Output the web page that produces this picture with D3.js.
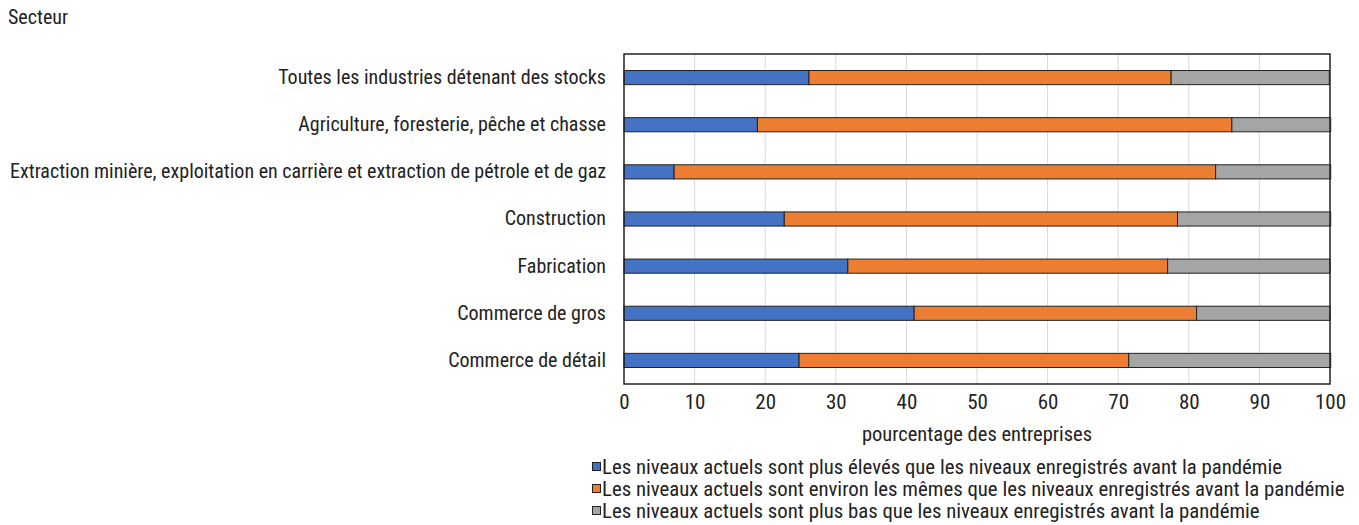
<!DOCTYPE html>
<html>
<head>
<meta charset="utf-8">
<script src="https://cdn.jsdelivr.net/npm/d3@7"></script>
<style>
  body { margin: 0; background: #fff; }
  svg text { font-family: "Liberation Sans Narrow", "Arial Narrow", "Roboto Condensed", sans-serif; fill: #222; }
</style>
</head>
<body>
<div id="chart"></div>
<script>
(function(){
  'use strict';

  // sectors, top to bottom
  const categories = [
    "Toutes les industries détenant des stocks",
    "Agriculture, foresterie, pêche et chasse",
    "Extraction minière, exploitation en carrière et extraction de pétrole et de gaz",
    "Construction",
    "Fabrication",
    "Commerce de gros",
    "Commerce de détail"
  ];

  // share of firms (%) for each answer
  const higher = [26.2, 18.9, 7.1, 22.7, 31.7, 41.1, 24.8];
  const same   = [51.3, 67.2, 76.7, 55.7, 45.3, 40.0, 46.7];
  const lower  = [22.4, 14.0, 16.3, 21.7, 23.0, 18.9, 28.6];

  const seriesNames = [
    "Les niveaux actuels sont plus élevés que les niveaux enregistrés avant la pandémie",
    "Les niveaux actuels sont environ les mêmes que les niveaux enregistrés avant la pandémie",
    "Les niveaux actuels sont plus bas que les niveaux enregistrés avant la pandémie"
  ];
  const colors = ["#4472c4", "#ed7d31", "#a5a5a5"];
  const xTicks = [0, 10, 20, 30, 40, 50, 60, 70, 80, 90, 100];

  const W = 1359, H = 525;
  const margin = { top: 54, right: 29, bottom: 141, left: 624 };
  const width = W - margin.left - margin.right;
  const height = H - margin.top - margin.bottom;

  const rows = categories.map((c, i) => ({ cat: c, v: [higher[i], same[i], lower[i]] }));
  const stack = d3.stack().keys([0, 1, 2]).value((d, k) => d.v[k]);
  const layers = stack(rows);

  const x = d3.scaleLinear().domain([0, 100]).range([0, width]);
  const y = d3.scaleBand().domain(categories).range([0, height]).paddingInner(0.7).paddingOuter(0.35);

  const svg = d3.select("#chart").append("svg")
    .attr("width", W).attr("height", H);

  svg.append("text").attr("x", 8).attr("y", 24)
    .style("font-size", "20px").text("Secteur");

  const g = svg.append("g").attr("transform", `translate(${margin.left},${margin.top})`);

  // gridlines
  g.append("g").selectAll("line").data(xTicks.slice(1, -1)).join("line")
    .attr("x1", d => x(d)).attr("x2", d => x(d))
    .attr("y1", 0).attr("y2", height)
    .attr("stroke", "#d9d9d9").attr("stroke-width", 1);

  // bars
  g.append("g").selectAll("g").data(layers).join("g")
    .attr("fill", (d, i) => colors[i])
    .selectAll("rect").data(d => d).join("rect")
      .attr("x", d => x(d[0]))
      .attr("y", d => y(d.data.cat))
      .attr("width", d => x(d[1]) - x(d[0]))
      .attr("height", y.bandwidth())
      .attr("stroke", "#222").attr("stroke-width", 1);

  // frame
  g.append("rect").attr("x", 0).attr("y", 0).attr("width", width).attr("height", height)
    .attr("fill", "none").attr("stroke", "#222").attr("stroke-width", 1.5);

  // x axis
  const xAxis = g.append("g").attr("transform", `translate(0,${height})`)
    .call(d3.axisBottom(x).tickValues(xTicks).tickSize(0).tickPadding(10));
  xAxis.select(".domain").remove();
  xAxis.selectAll("text").style("font-size", "21px");

  // y axis labels
  const yAxis = g.append("g")
    .call(d3.axisLeft(y).tickSize(0).tickPadding(18));
  yAxis.select(".domain").remove();
  yAxis.selectAll("text").style("font-size", "20px");

  svg.append("text").attr("x", margin.left + width / 2).attr("y", 441)
    .attr("text-anchor", "middle").style("font-size", "20.5px")
    .text("pourcentage des entreprises");

  // legend
  const lg = svg.append("g").attr("transform", "translate(592,459)");
  const item = lg.selectAll("g").data(seriesNames).join("g")
    .attr("transform", (d, i) => `translate(0,${i * 22})`);
  item.append("rect").attr("x", 0.5).attr("y", 3.5).attr("width", 8).attr("height", 8)
    .attr("fill", (d, i) => colors[i]).attr("stroke", "#222").attr("stroke-width", 1);
  item.append("text").attr("x", 10).attr("y", 15)
    .style("font-size", "20.8px").text(d => d);
}());
</script>
</body>
</html>
